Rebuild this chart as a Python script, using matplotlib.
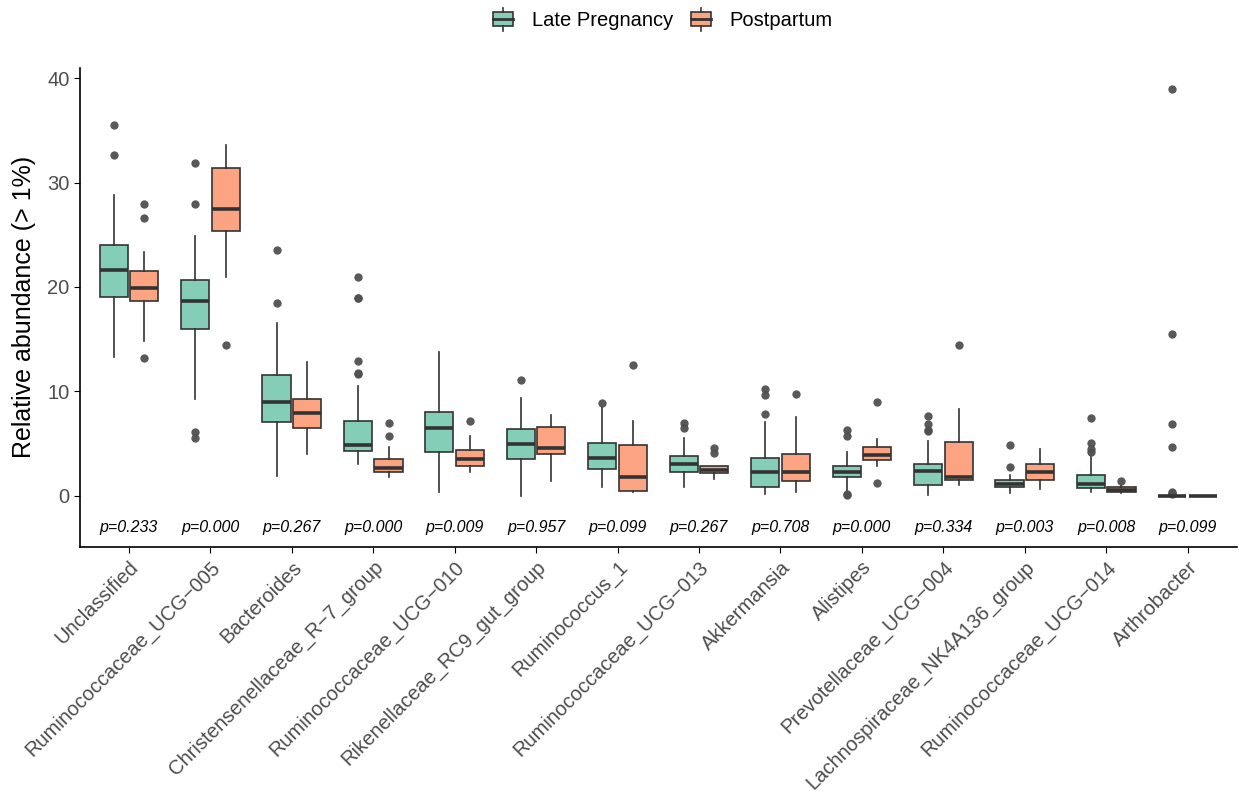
import matplotlib
matplotlib.use("Agg")
import matplotlib.pyplot as plt
from matplotlib.patches import Rectangle, Patch
from matplotlib.lines import Line2D
from matplotlib.legend_handler import HandlerBase

plt.rcParams["font.family"] = ["Liberation Sans", "DejaVu Sans"]

categories = ["Unclassified", "Ruminococcaceae_UCG\u2212005", "Bacteroides",
              "Christensenellaceae_R\u22127_group", "Ruminococcaceae_UCG\u2212010",
              "Rikenellaceae_RC9_gut_group", "Ruminococcus_1", "Ruminococcaceae_UCG\u2212013",
              "Akkermansia", "Alistipes", "Prevotellaceae_UCG\u2212004",
              "Lachnospiraceae_NK4A136_group", "Ruminococcaceae_UCG\u2212014", "Arthrobacter"]
p_values = ["0.233", "0.000", "0.267", "0.000", "0.009", "0.957", "0.099",
            "0.267", "0.708", "0.000", "0.334", "0.003", "0.008", "0.099"]
groups = ["Late Pregnancy", "Postpartum"]

# Late Pregnancy box statistics
lp_whislo = [13.27, 9.31, 1.91, 3.09, 0.32, 0.03, 0.89, 0.83, 0.13, 0.26, 0.10, 0.29, 0.32, 0.0]
lp_q1     = [19.04, 15.95, 7.05, 4.31, 4.18, 3.51, 2.55, 2.27, 0.89, 1.79, 1.08, 0.80, 0.73, 0.0]
lp_med    = [21.66, 18.63, 8.96, 4.88, 6.51, 4.94, 3.64, 3.06, 2.33, 2.30, 2.39, 1.15, 1.12, 0.0]
lp_q3     = [24.05, 20.67, 11.55, 7.15, 8.07, 6.41, 5.07, 3.83, 3.64, 2.81, 3.09, 1.47, 2.04, 0.0]
lp_whishi = [28.77, 24.85, 16.52, 10.53, 13.78, 9.35, 8.55, 5.55, 7.05, 4.18, 5.26, 2.01, 4.34, 0.0]
lp_fliers = [[35.47, 32.66], [31.83, 27.94, 6.15, 5.52], [23.54, 18.50],
             [20.96, 18.98, 18.90, 12.92, 11.80, 11.68], [], [11.07], [8.90],
             [7.02, 6.48], [10.24, 9.70, 7.82], [6.32, 5.77, 0.16, 0.12],
             [7.69, 6.92, 6.30, 6.20], [4.85, 2.74], [7.50, 5.04, 4.50, 4.24],
             [38.92, 15.47, 6.89, 4.69, 0.38, 0.26, 0.13]]

# Postpartum box statistics
pp_whislo = [14.83, 20.93, 3.99, 1.79, 2.30, 1.40, 0.32, 1.63, 0.41, 2.81, 1.02, 0.61, 0.30, 0.0]
pp_q1     = [18.63, 25.33, 6.48, 2.30, 2.87, 3.99, 0.51, 2.17, 1.44, 3.41, 1.56, 1.47, 0.38, 0.0]
pp_med    = [19.90, 27.46, 7.97, 2.62, 3.54, 4.59, 1.79, 2.52, 2.30, 3.92, 1.85, 2.33, 0.54, 0.0]
pp_q3     = [21.53, 31.36, 9.28, 3.54, 4.43, 6.63, 4.91, 2.87, 3.99, 4.72, 5.13, 3.09, 0.83, 0.0]
pp_whishi = [23.35, 33.62, 12.79, 4.72, 5.74, 7.72, 7.18, 2.90, 7.59, 5.45, 8.29, 4.53, 1.05, 0.0]
pp_fliers = [[27.94, 26.57, 13.17], [14.45], [], [6.95, 5.71], [7.18], [], [12.57],
             [4.59, 4.11], [9.76], [9.00, 1.24], [14.42], [], [1.44], []]

green = "#84CEB7"
orange = "#FCA481"
edge = "#333333"
flier_col = "#505050"

fig = plt.figure(figsize=(12.39, 7.96), dpi=100)
ax = fig.add_axes([0.0646, 0.3128, 0.9334, 0.6022])

offset = 0.1875
width = 0.345


def make_stats(lo, q1, med, q3, hi, fl):
    return [dict(whislo=a, q1=b, med=c, q3=d, whishi=e, fliers=f)
            for a, b, c, d, e, f in zip(lo, q1, med, q3, hi, fl)]


series = [
    (make_stats(lp_whislo, lp_q1, lp_med, lp_q3, lp_whishi, lp_fliers), -offset, green),
    (make_stats(pp_whislo, pp_q1, pp_med, pp_q3, pp_whishi, pp_fliers), offset, orange),
]

for stats, off, col in series:
    pos = [i + 1 + off for i in range(len(categories))]
    ax.bxp(stats, positions=pos, widths=width, patch_artist=True, showcaps=False,
           boxprops=dict(facecolor=col, edgecolor=edge, linewidth=1.2),
           whiskerprops=dict(color=edge, linewidth=1.2),
           medianprops=dict(color=edge, linewidth=2.6, solid_capstyle="butt"),
           flierprops=dict(marker="o", markerfacecolor=flier_col, markeredgecolor="none",
                           markersize=6, alpha=0.95),
           manage_ticks=False)

for i, p in enumerate(p_values):
    ax.text(i + 1, -3.0, "p=" + p, ha="center", va="center", fontsize=11.5,
            style="italic", color="black")

ax.set_xlim(0.4, 14.6)
ax.set_ylim(-4.9, 41.0)
ax.set_xticks(range(1, len(categories) + 1))
ax.set_xticklabels(categories, rotation=45, ha="right", rotation_mode="anchor",
                   fontsize=14.5, color="#4D4D4D")
ax.set_yticks([0, 10, 20, 30, 40])
ax.tick_params(axis="y", labelsize=14.5, labelcolor="#4D4D4D", length=4, color="black")
ax.tick_params(axis="x", length=4, color="black")
ax.set_ylabel("Relative abundance (> 1%)", fontsize=18, labelpad=8)
for s in ["top", "right"]:
    ax.spines[s].set_visible(False)
for s in ["left", "bottom"]:
    ax.spines[s].set_linewidth(1.2)


class BoxKey(HandlerBase):
    def create_artists(self, legend, orig_handle, xdescent, ydescent, width, height,
                       fontsize, trans):
        fc = orig_handle.get_facecolor()
        x0, x1 = -xdescent, -xdescent + width
        ymid = -ydescent + height / 2
        h = height * 0.75
        r = Rectangle((x0, ymid - h / 2), width, h, facecolor=fc, edgecolor=edge,
                      linewidth=1.2, transform=trans)
        m = Line2D([x0, x1], [ymid, ymid], color=edge, linewidth=2, transform=trans)
        xc = (x0 + x1) / 2
        w1 = Line2D([xc, xc], [ymid + h / 2, ymid + h * 0.85], color=edge, linewidth=1.2,
                    transform=trans)
        w2 = Line2D([xc, xc], [ymid - h / 2, ymid - h * 0.85], color=edge, linewidth=1.2,
                    transform=trans)
        return [r, m, w1, w2]


handles = [Patch(facecolor=green), Patch(facecolor=orange)]
fig.legend(handles, groups, handler_map={Patch: BoxKey()}, loc="upper center",
           bbox_to_anchor=(0.535, 1.01), ncol=2, frameon=False, fontsize=14.5,
           handlelength=1.0, handleheight=1.0, columnspacing=0.9, handletextpad=0.9)

fig.savefig("out.png", dpi=100)
